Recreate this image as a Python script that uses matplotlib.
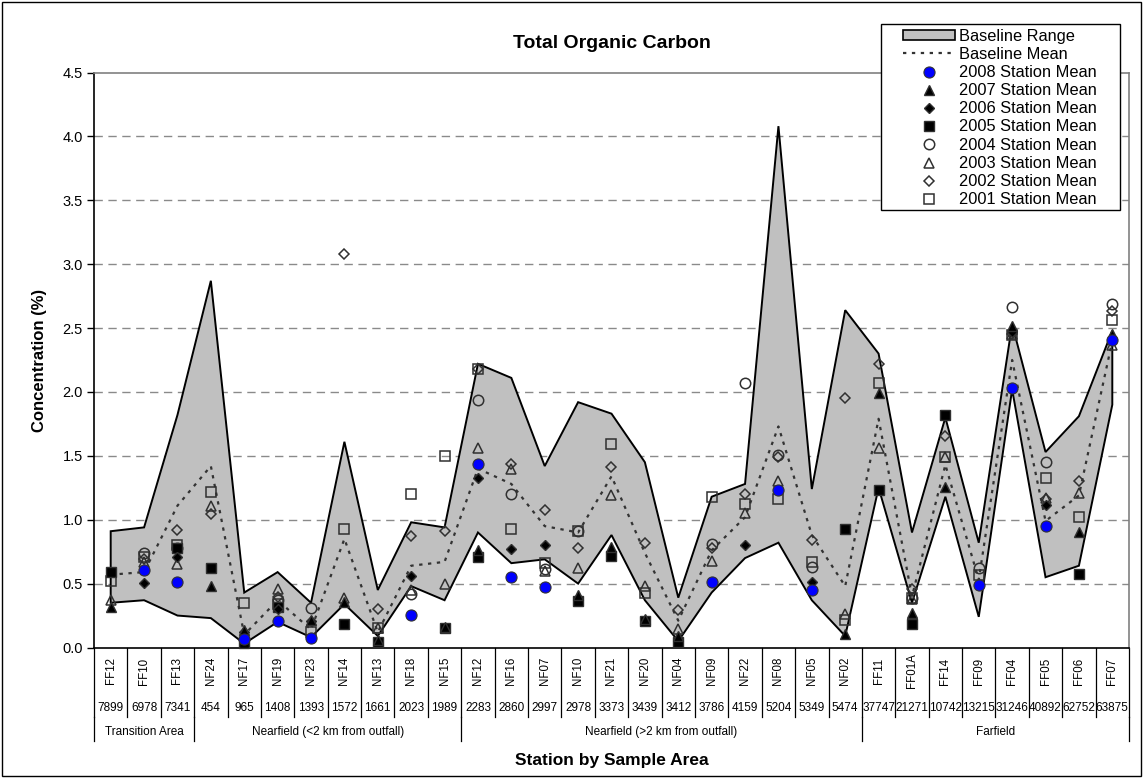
import numpy as np
import matplotlib
matplotlib.use("Agg")
import matplotlib.pyplot as plt
from matplotlib.patches import Patch, Rectangle
from matplotlib.lines import Line2D
from matplotlib import transforms

nan = np.nan

stations = ["FF12", "FF10", "FF13", "NF24", "NF17", "NF19", "NF23", "NF14", "NF13",
            "NF18", "NF15", "NF12", "NF16", "NF07", "NF10", "NF21", "NF20", "NF04",
            "NF09", "NF22", "NF08", "NF05", "NF02", "FF11", "FF01A", "FF14", "FF09",
            "FF04", "FF05", "FF06", "FF07"]
distances = ["7899", "6978", "7341", "454", "965", "1408", "1393", "1572", "1661",
             "2023", "1989", "2283", "2860", "2997", "2978", "3373", "3439", "3412",
             "3786", "4159", "5204", "5349", "5474", "37747", "21271", "10742", "13215",
             "31246", "40892", "62752", "63875"]
areas = ["Transition Area", "Nearfield (<2 km from outfall)",
         "Nearfield (>2 km from outfall)", "Farfield"]
area_sizes = [3, 8, 12, 8]

baseline_upper = [0.91, 0.94, 1.82, 2.87, 0.43, 0.59, 0.35, 1.61, 0.45, 0.98, 0.94,
                  2.22, 2.11, 1.42, 1.92, 1.83, 1.45, 0.39, 1.18, 1.28, 4.08, 1.24,
                  2.64, 2.30, 0.90, 1.80, 0.82, 2.53, 1.53, 1.81, 2.48]
baseline_lower = [0.35, 0.37, 0.25, 0.23, 0.03, 0.20, 0.08, 0.34, 0.09, 0.48, 0.37,
                  0.90, 0.66, 0.69, 0.50, 0.88, 0.37, 0.05, 0.43, 0.70, 0.82, 0.37,
                  0.09, 1.25, 0.35, 1.18, 0.24, 2.02, 0.55, 0.64, 1.90]
baseline_mean = [0.57, 0.59, 1.11, 1.42, 0.10, 0.37, 0.14, 0.85, 0.12, 0.64, 0.67,
                 1.40, 1.28, 0.95, 0.90, 1.34, 0.74, 0.21, 0.76, 1.02, 1.73, 0.88,
                 0.48, 1.79, 0.40, 1.43, 0.53, 2.25, 0.99, 1.19, 2.40]

mean_2008 = [nan, 0.61, 0.515, nan, 0.066, 0.207, 0.072, nan, nan, 0.254, nan,
             1.44, 0.55, 0.47, nan, nan, nan, nan, 0.516, nan, 1.23, 0.45,
             nan, nan, nan, nan, 0.49, 2.03, 0.95, nan, 2.41]
mean_2007 = [0.317, nan, nan, 0.484, 0.137, nan, 0.215, 0.359, 0.06, nan, 0.163,
             0.76, nan, nan, 0.41, 0.785, 0.22, 0.09, nan, nan, nan, nan,
             0.105, 1.99, 0.267, 1.26, nan, 2.52, nan, 0.905, 2.45]
mean_2006 = [nan, 0.507, 0.71, nan, 0.12, 0.299, 0.207, nan, nan, 0.562, nan,
             1.33, 0.77, 0.80, nan, nan, nan, nan, nan, 0.80, nan, 0.51,
             nan, nan, nan, nan, nan, 2.47, 1.115, nan, nan]
mean_2005 = [0.588, nan, 0.78, 0.623, 0.038, 0.32, nan, 0.184, 0.045, nan, 0.15,
             0.707, nan, nan, 0.366, 0.717, 0.21, 0.04, nan, nan, nan, nan,
             0.93, 1.23, 0.184, 1.82, nan, nan, nan, 0.575, nan]
mean_2004 = [nan, 0.74, 0.78, nan, nan, 0.372, 0.312, nan, nan, 0.42, nan,
             1.94, 1.20, 0.615, 0.91, nan, nan, nan, 0.81, 2.07, 1.505, 0.63,
             nan, nan, 0.39, nan, 0.62, 2.667, 1.454, nan, 2.69]
mean_2003 = [0.37, 0.67, 0.653, 1.11, nan, 0.458, nan, 0.385, 0.15, 0.45, 0.50,
             1.56, 1.395, 0.60, 0.62, 1.19, 0.48, 0.144, 0.675, 1.055, 1.30, nan,
             0.26, 1.56, 0.38, 1.49, nan, 2.45, 1.17, 1.213, 2.366]
mean_2002 = [nan, 0.69, 0.92, 1.047, nan, 0.393, nan, 3.08, 0.302, 0.87, 0.91,
             2.18, 1.44, 1.08, 0.78, 1.41, 0.82, 0.29, 0.78, 1.20, 1.487, 0.84,
             1.95, 2.22, 0.455, 1.655, nan, 2.45, 1.165, 1.305, 2.63]
mean_2001 = [0.52, 0.705, 0.80, 1.217, 0.346, 0.34, 0.124, 0.93, 0.15, 1.20, 1.50,
             2.18, 0.93, 0.66, 0.91, 1.59, 0.43, nan, 1.18, 1.12, 1.165, 0.667,
             0.215, 2.07, 0.384, 1.49, 0.568, 2.445, 1.33, 1.023, 2.563]

yticks = [0.0, 0.5, 1.0, 1.5, 2.0, 2.5, 3.0, 3.5, 4.0, 4.5]

FONT = "Liberation Sans"
plt.rcParams["font.family"] = [FONT, "DejaVu Sans"]

W, H = 1143, 778
fig = plt.figure(figsize=(W / 100, H / 100), dpi=100)
left, right, top, bottom = 94, 1129, 72.5, 647.5
ax = fig.add_axes([left / W, 1 - bottom / H, (right - left) / W, (bottom - top) / H])

x = np.arange(len(stations))

# baseline envelope
poly_x = np.concatenate([x, x[::-1]])
poly_y = np.concatenate([baseline_upper, baseline_lower[::-1]])
ax.fill(poly_x, poly_y, facecolor="#C0C0C0", edgecolor="black", linewidth=1.4, zorder=2)
mean_style = dict(linestyle=(0, (1.5, 2.5)), color="#333333", linewidth=1.6)
ax.plot(x, baseline_mean, zorder=3, **mean_style)

mk_edge = "#303030"
series = [
    ("2001 Station Mean", mean_2001, dict(marker="s", ms=7.5, mfc="none", mec=mk_edge, mew=1.1)),
    ("2002 Station Mean", mean_2002, dict(marker="D", ms=5.5, mfc="none", mec=mk_edge, mew=1.1)),
    ("2003 Station Mean", mean_2003, dict(marker="^", ms=7.5, mfc="none", mec=mk_edge, mew=1.1)),
    ("2004 Station Mean", mean_2004, dict(marker="o", ms=7.5, mfc="none", mec=mk_edge, mew=1.1)),
    ("2005 Station Mean", mean_2005, dict(marker="s", ms=7, mfc="black", mec=mk_edge, mew=1.0)),
    ("2006 Station Mean", mean_2006, dict(marker="D", ms=5.5, mfc="black", mec=mk_edge, mew=1.0)),
    ("2007 Station Mean", mean_2007, dict(marker="^", ms=7, mfc="black", mec=mk_edge, mew=1.0)),
    ("2008 Station Mean", mean_2008, dict(marker="o", ms=8, mfc="#0000FF", mec="#333333", mew=0.8)),
]
handles = {}
for i, (name, vals, style) in enumerate(series):
    ax.plot(x, vals, linestyle="none", zorder=5 + i, clip_on=False, **style)
    handles[name] = Line2D([], [], linestyle="none", **style)

ax.set_xlim(-0.5, len(stations) - 0.5)
ax.set_ylim(0, 4.5)
ax.set_yticks(yticks)
ax.set_yticklabels([f"{t:.1f}" for t in yticks], fontsize=10.5)
ax.tick_params(axis="y", direction="out", length=5, width=1, pad=3)
ax.set_xticks([])
for yv in yticks[1:-1]:
    ax.axhline(yv, color="#8a8a8a", linewidth=1.0, linestyle=(0, (6, 4)), zorder=0)

for s in ["left", "bottom"]:
    ax.spines[s].set_color("black")
    ax.spines[s].set_linewidth(1.2)
for s in ["top", "right"]:
    ax.spines[s].set_color("#808080")
    ax.spines[s].set_linewidth(1.2)
ax.spines["bottom"].set_zorder(4)

# category table under the axis
trans = transforms.blended_transform_factory(ax.transData, fig.transFigure)
def fy(p):
    return 1 - p / H

for i in range(len(stations) + 1):
    ax.add_line(Line2D([i - 0.5, i - 0.5], [fy(647.5), fy(717)], transform=trans,
                       color="black", linewidth=0.9, clip_on=False))
for i, (st, d) in enumerate(zip(stations, distances)):
    ax.text(i, fy(671), st, transform=trans, rotation=90, ha="center", va="center",
            fontsize=8.3)
    ax.text(i, fy(708), d, transform=trans, ha="center", va="center", fontsize=8.5)

start = 0
bounds = [0]
for n in area_sizes:
    start += n
    bounds.append(start)
for b in bounds:
    ax.add_line(Line2D([b - 0.5, b - 0.5], [fy(717), fy(741)], transform=trans,
                       color="black", linewidth=0.9, clip_on=False))
for a, b0, b1 in zip(areas, bounds[:-1], bounds[1:]):
    ax.text((b0 + b1 - 1) / 2, fy(732), a, transform=trans, ha="center", va="center",
            fontsize=8.5)

fig.text((left + right) / 2 / W, fy(44), "Total Organic Carbon", ha="center", va="center",
         fontsize=14, fontweight="bold")
fig.text((left + right) / 2 / W, fy(761), "Station by Sample Area", ha="center",
         va="center", fontsize=12.5, fontweight="bold")
fig.text(40 / W, fy((top + bottom) / 2), "Concentration (%)", ha="center", va="center",
         rotation=90, fontsize=12, fontweight="bold")

# legend: entries without their own frame, boxed by a separate rectangle
legend_handles = [Patch(facecolor="#C0C0C0", edgecolor="black", linewidth=1.2),
                  Line2D([], [], **mean_style)]
legend_labels = ["Baseline Range", "Baseline Mean"]
for name in ["2008 Station Mean", "2007 Station Mean", "2006 Station Mean",
             "2005 Station Mean", "2004 Station Mean", "2003 Station Mean",
             "2002 Station Mean", "2001 Station Mean"]:
    legend_handles.append(handles[name])
    legend_labels.append(name)

fig.add_artist(Rectangle((881 / W, fy(210)), (1120 - 881) / W, (210 - 24) / H,
                         transform=fig.transFigure, facecolor="white", edgecolor="black",
                         linewidth=1.0, zorder=19))
leg = fig.legend(legend_handles, legend_labels, loc="upper left",
                 bbox_to_anchor=(903 / W, fy(28.5)), bbox_transform=fig.transFigure,
                 fontsize=11.8, frameon=False, borderpad=0, labelspacing=0.195,
                 handlelength=3.15, handleheight=0.55, handletextpad=0.25,
                 borderaxespad=0)
leg.set_zorder(20)

fig.add_artist(Rectangle((2 / W, 2 / H), (W - 4) / W, (H - 4) / H, transform=fig.transFigure,
                         fill=False, edgecolor="black", linewidth=1.0))

fig.savefig("out.png", dpi=100, facecolor="white")
